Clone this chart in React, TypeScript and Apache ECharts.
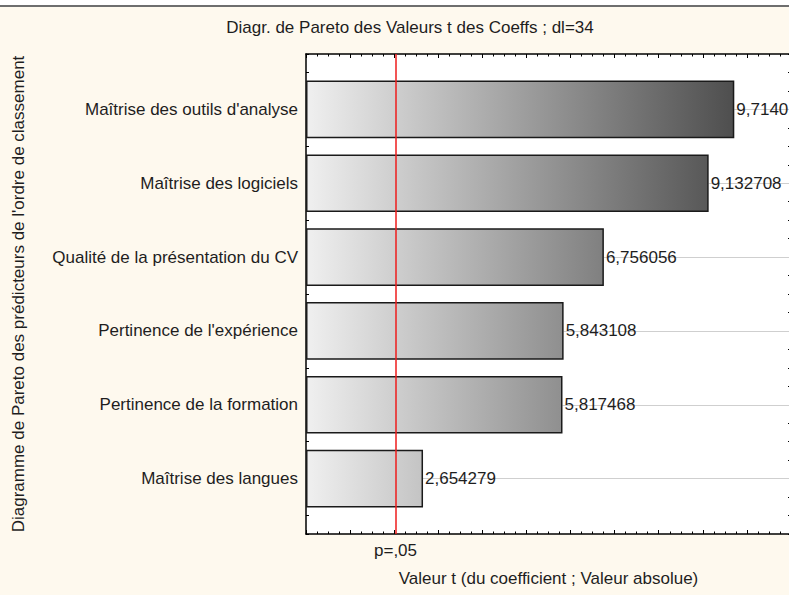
import React, { useEffect, useRef } from "react";
import * as echarts from "echarts";

const categories = [
  "Maîtrise des outils d'analyse",
  "Maîtrise des logiciels",
  "Qualité de la présentation du CV",
  "Pertinence de l'expérience",
  "Pertinence de la formation",
  "Maîtrise des langues",
];
const tValues = [9.714012, 9.132708, 6.756056, 5.843108, 5.817468, 2.654279];
const tCritical = 2.032;
const critLabel = "p=,05";
const xMin = 0;
const xMax = 11;
const titleText = "Diagr. de Pareto des Valeurs t des Coeffs ; dl=34";
const xAxisName = "Valeur t (du coefficient ; Valeur absolue)";
const yAxisName = "Diagramme de Pareto des prédicteurs de l'ordre de classement";

const W = 800;
const H = 595;
const FONT = "'Liberation Sans', Arial, Helvetica, sans-serif";
const FS = 17;
const TXT = "#1e1e1e";
const BG = "#fef9ee";

const plotLeft = 306;
const plotRight = 791;
const plotTop = 54;
const plotBottom = 534;
const unit = (plotBottom - plotTop) / 6.5;

export default function App() {
  const ref = useRef<HTMLDivElement>(null);
  useEffect(() => {
    if (!ref.current) return;
    const chart = echarts.init(ref.current, undefined, { renderer: "svg" });
    const gradient = new echarts.graphic.LinearGradient(
      plotLeft,
      0,
      745,
      0,
      [
        { offset: 0, color: "#f0f0f0" },
        { offset: 1, color: "#4a4a4a" },
      ],
      true
    );
    const frameTick = { show: true, inside: true, length: 3, lineStyle: { color: "#000", width: 1 } };
    const frameLine = { show: true, onZero: false, lineStyle: { color: "#000", width: 1.5 } };
    const option: any = {
      animation: false,
      backgroundColor: BG,
      textStyle: { fontFamily: FONT },
      graphic: [
        { type: "rect", shape: { x: 0, y: 0, width: W, height: 5 }, style: { fill: "#ffffff" }, silent: true },
        { type: "rect", shape: { x: 0, y: 5, width: W, height: 2 }, style: { fill: "#6e6e6e" }, silent: true },
        {
          type: "text",
          x: 410,
          y: 19,
          style: {
            text: titleText,
            textAlign: "center",
            textVerticalAlign: "top",
            fontFamily: FONT,
            fontSize: FS,
            fill: TXT,
          },
          silent: true,
        },
      ],
      grid: [
        {
          left: plotLeft,
          right: W - plotRight,
          top: plotTop,
          bottom: H - plotBottom,
          show: true,
          backgroundColor: "#ffffff",
          borderWidth: 0,
        },
        {
          left: plotLeft,
          right: W - plotRight,
          top: plotTop + unit / 4,
          bottom: H - plotBottom + unit / 4,
        },
      ],
      xAxis: [
        {
          gridIndex: 0,
          type: "value",
          position: "bottom",
          min: xMin,
          max: xMax,
          interval: 1,
          axisLine: frameLine,
          axisTick: { show: true, inside: true, length: 4, lineStyle: { color: "#000", width: 1 } },
          minorTick: { show: true, splitNumber: 4, length: 2.5, lineStyle: { color: "#000", width: 1 } },
          axisLabel: { show: false },
          splitLine: { show: false },
          name: xAxisName,
          nameLocation: "middle",
          nameGap: 36,
          nameTextStyle: { fontFamily: FONT, fontSize: FS, color: TXT },
        },
        {
          gridIndex: 0,
          type: "value",
          position: "top",
          min: xMin,
          max: xMax,
          interval: 1,
          axisLine: frameLine,
          axisTick: { show: true, inside: true, length: 4, lineStyle: { color: "#000", width: 1 } },
          minorTick: { show: true, splitNumber: 4, length: 2.5, lineStyle: { color: "#000", width: 1 } },
          axisLabel: { show: false },
          splitLine: { show: false },
        },
        {
          gridIndex: 1,
          type: "value",
          min: xMin,
          max: xMax,
          show: false,
        },
      ],
      yAxis: [
        {
          gridIndex: 0,
          type: "value",
          position: "left",
          min: 0,
          max: 6.5,
          interval: 0.25,
          axisLine: frameLine,
          axisTick: frameTick,
          axisLabel: { show: false },
          splitLine: { show: false },
          name: yAxisName,
          nameLocation: "middle",
          nameGap: plotLeft - 27,
          nameRotate: 90,
          nameTextStyle: { fontFamily: FONT, fontSize: FS, color: TXT },
        },
        {
          gridIndex: 0,
          type: "value",
          position: "right",
          min: 0,
          max: 6.5,
          interval: 0.25,
          axisLine: frameLine,
          axisTick: frameTick,
          axisLabel: { show: false },
          splitLine: { show: false },
        },
        {
          gridIndex: 1,
          type: "category",
          inverse: true,
          data: categories,
          axisLine: { show: false },
          axisTick: { show: true, inside: true, alignWithLabel: true, length: 5, lineStyle: { color: "#000", width: 1.5 } },
          axisLabel: { show: true, margin: 8, fontFamily: FONT, fontSize: FS, color: TXT },
          splitLine: { show: false },
        },
      ],
      series: [
        {
          type: "line",
          xAxisIndex: 0,
          yAxisIndex: 0,
          data: [[tCritical, 0]],
          showSymbol: false,
          symbolSize: 0,
          lineStyle: { opacity: 0 },
          silent: true,
          z: 10,
          markLine: {
            silent: true,
            symbol: ["none", "none"],
            lineStyle: { color: "#ee1c1c", width: 1.5, type: "solid" },
            label: {
              show: true,
              position: "start",
              formatter: critLabel,
              distance: 8,
              fontFamily: FONT,
              fontSize: FS,
              color: TXT,
            },
            data: [{ xAxis: tCritical }],
          },
        },
        {
          type: "bar",
          xAxisIndex: 2,
          yAxisIndex: 2,
          data: tValues,
          barWidth: "78%",
          itemStyle: { color: gradient, borderColor: "#1a1a1a", borderWidth: 1.5 },
          label: {
            show: true,
            position: "right",
            distance: 2,
            fontFamily: FONT,
            fontSize: FS,
            color: TXT,
            formatter: (p: any) => tValues[p.dataIndex].toFixed(6).replace(".", ","),
          },
          z: 3,
          markLine: {
            silent: true,
            symbol: ["none", "none"],
            lineStyle: { color: "#cfcfcf", width: 1, type: "solid" },
            label: { show: false },
            z: 1,
            data: tValues.map((v, i) => [{ coord: [v, i] }, { coord: [xMax, i] }]),
          },
        },
      ],
    };
    chart.setOption(option);
    return () => chart.dispose();
  }, []);
  return (
    <div style={{ position: "fixed", left: 0, top: 0, width: 789, height: 595, overflow: "hidden" }}>
      <div ref={ref} style={{ width: W, height: H }} />
    </div>
  );
}
